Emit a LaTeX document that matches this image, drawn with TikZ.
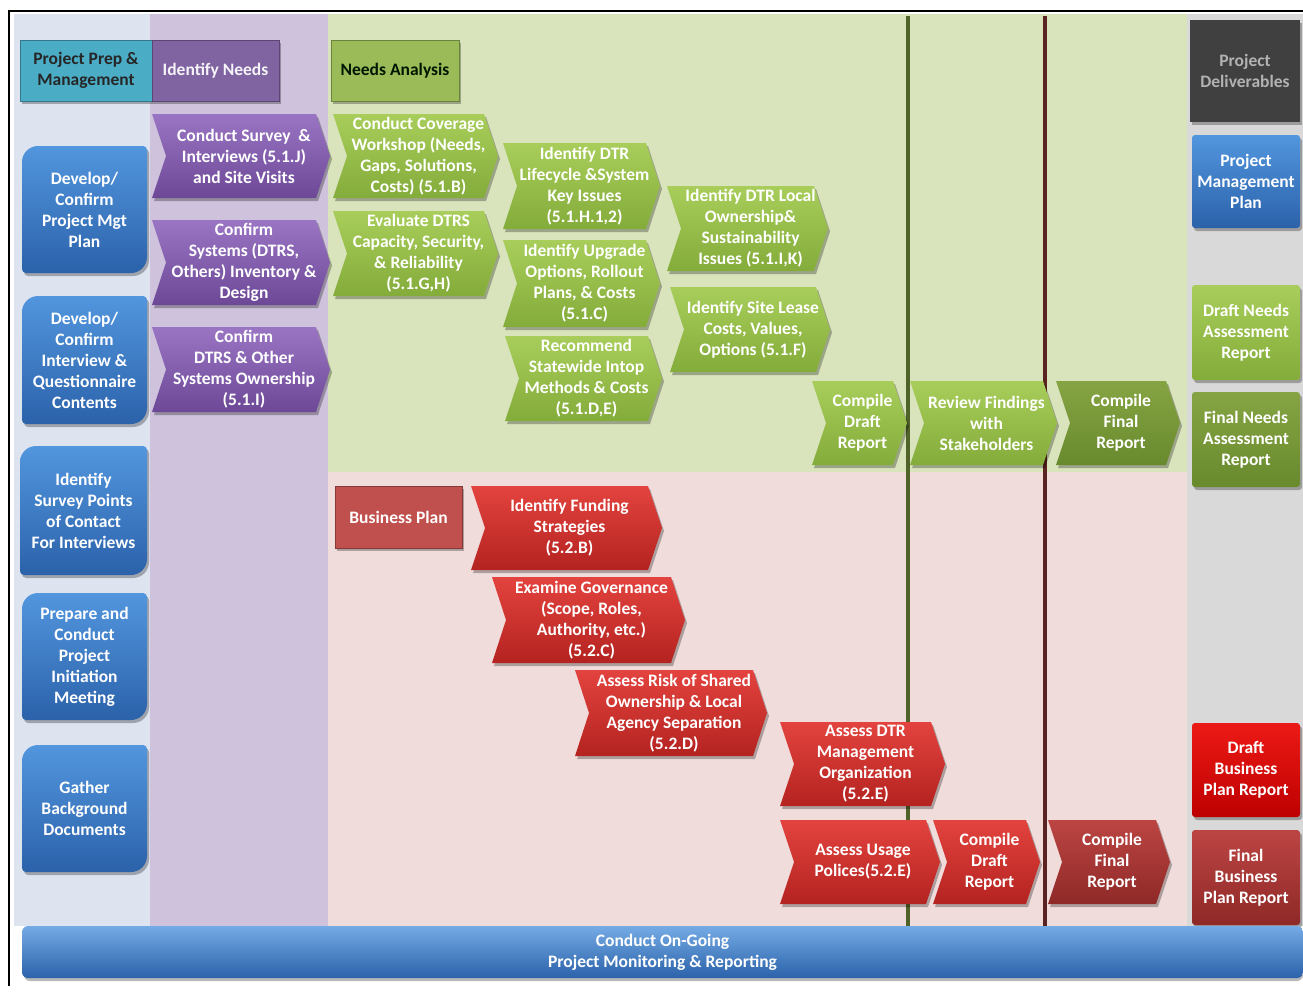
\documentclass[tikz,border=0pt]{standalone}
\usepackage{fontspec}
\setmainfont{Carlito}
\begin{document}
% colours
\definecolor{bgleft}{HTML}{DDE3EF}
\definecolor{bgpurple}{HTML}{CEC2DC}
\definecolor{bggreen}{HTML}{D9E4BD}
\definecolor{bgpink}{HTML}{F1DCDC}
\definecolor{bggray}{HTML}{D9D9D9}
\definecolor{blueA}{HTML}{5296DE}
\definecolor{blueB}{HTML}{2B62AA}
\definecolor{purA}{HTML}{9A75C4}
\definecolor{purB}{HTML}{6C4897}
\definecolor{grnA}{HTML}{A8CD5A}
\definecolor{grnB}{HTML}{84AC3A}
\definecolor{dgrnA}{HTML}{86A443}
\definecolor{dgrnB}{HTML}{688A2D}
\definecolor{redA}{HTML}{E3433E}
\definecolor{redB}{HTML}{B42320}
\definecolor{dredA}{HTML}{BC4543}
\definecolor{dredB}{HTML}{8E2927}
\definecolor{brredA}{HTML}{EC1A16}
\definecolor{brredB}{HTML}{BE0000}
\definecolor{lineG}{HTML}{4F6228}
\definecolor{lineR}{HTML}{5A2220}
\definecolor{tealbox}{HTML}{4BACC6}
\definecolor{purbox}{HTML}{8064A2}
\definecolor{grnbox}{HTML}{9BBB59}
\definecolor{bpbox}{HTML}{C0504D}
\definecolor{darkbox}{HTML}{404040}
\tikzset{
  shadowc/.style={black,opacity=.28},
  blueshade/.style={top color=blueA,bottom color=blueB},
  purshade/.style={top color=purA,bottom color=purB},
  grnshade/.style={top color=grnA,bottom color=grnB},
  dgrnshade/.style={top color=dgrnA,bottom color=dgrnB},
  redshade/.style={top color=redA,bottom color=redB},
  dredshade/.style={top color=dredA,bottom color=dredB},
  brredshade/.style={top color=brredA,bottom color=brredB},
  txt/.style={text=white,font=\bfseries\fontsize{17.5}{21}\selectfont,align=center,inner sep=0pt},
  hdr/.style={rectangle,inner sep=0pt,align=center,font=\bfseries\fontsize{17.5}{21}\selectfont},
}
% chevron: name, x1, y1, x2, y2, shading style, text
\newcommand\chev[7]{%
  \pgfmathsetmacro\cy{(#3+#5)/2}%
  \fill[shadowc] (#2+2,#3+3) -- (#4-12,#3+3) -- (#4+2,\cy+3) -- (#4-12,#5+3) -- (#2+2,#5+3) -- (#2+16,\cy+3) -- cycle;
  \shade[#6] (#2,#3) -- (#4-14,#3) -- (#4,\cy) -- (#4-14,#5) -- (#2,#5) -- (#2+14,\cy) -- cycle;
  \node[txt] (#1) at ({(#2+#4)/2+3},\cy) {#7};
}
% box with two large diagonal corners: name, x1, y1, x2, y2, text
\newcommand\bluebox[6]{%
  \begin{scope}[shift={(2,3)}]
  \fill[shadowc] (#2,#3+16) .. controls (#2,#3+7.2) and (#2+7.2,#3) .. (#2+16,#3) -- (#4-4,#3) .. controls (#4-1.8,#3) and (#4,#3+1.8) .. (#4,#3+4) -- (#4,#5-16) .. controls (#4,#5-7.2) and (#4-7.2,#5) .. (#4-16,#5) -- (#2+4,#5) .. controls (#2+1.8,#5) and (#2,#5-1.8) .. (#2,#5-4) -- cycle;
  \end{scope}
  \shade[blueshade] (#2,#3+16) .. controls (#2,#3+7.2) and (#2+7.2,#3) .. (#2+16,#3) -- (#4-4,#3) .. controls (#4-1.8,#3) and (#4,#3+1.8) .. (#4,#3+4) -- (#4,#5-16) .. controls (#4,#5-7.2) and (#4-7.2,#5) .. (#4-16,#5) -- (#2+4,#5) .. controls (#2+1.8,#5) and (#2,#5-1.8) .. (#2,#5-4) -- cycle;
  \node[txt] (#1) at ({(#2+#4)/2},{(#3+#5)/2}) {#6};
}
% deliverable box: name, x1, y1, x2, y2, shading style, text
\newcommand\dbox[7]{%
  \fill[shadowc,rounded corners=3pt] (#2+2,#3+3) rectangle (#4+2,#5+3);
  \shade[#6,rounded corners=3pt] (#2,#3) rectangle (#4,#5);
  \node[txt] (#1) at ({(#2+#4)/2},{(#3+#5)/2}) {#7};
}
\begin{tikzpicture}[x=1pt,y=-1pt]
\useasboundingbox (0,0) rectangle (1303,991);
\fill[white] (0,0) rectangle (1303,991);
% swim-lane backgrounds
\fill[bgleft] (14,14) rectangle (150,926);
\fill[bgpurple] (150,14) rectangle (328,926);
\fill[bggreen] (328,14) rectangle (1187,472);
\fill[bgpink] (328,472) rectangle (1187,926);
\fill[bggray] (1187,14) rectangle (1303,926);
% frame
\draw[line width=2pt] (9,986) -- (9,11) -- (1303,11);
% milestone dividers
\draw[lineG,line width=3.5pt] (908,16) -- (908,926);
\draw[lineR,line width=3.5pt] (1045,16) -- (1045,926);

% column headers
\fill[shadowc] (22,43) rectangle (281,104);
\node[hdr,fill=tealbox,draw=tealbox!70!black,minimum width=132,minimum height=61,text=black!85] (prep) at (86,70.5) {Project Prep \&\\Management};
\node[hdr,fill=purbox,draw=purbox!70!black,minimum width=127,minimum height=61,text=white!92!purbox] (idneeds) at (215.5,70.5) {Identify Needs};
\fill[shadowc] (333,43) rectangle (461,104);
\node[hdr,fill=grnbox,draw=grnbox!70!black,minimum width=128,minimum height=61,text=black!85!green!60!black] (needsan) at (395,70.5) {Needs Analysis};
\fill[shadowc] (1192,23) rectangle (1302,125);
\node[hdr,fill=darkbox,minimum width=110,minimum height=102,text=black!30] (deliv) at (1245,71) {Project\\Deliverables};

% project prep and management
\bluebox{pm1}{22}{146}{147}{273}{Develop/\\Confirm\\Project Mgt\\Plan}
\bluebox{pm2}{22}{296}{147}{424}{Develop/\\Confirm\\Interview \&\\Questionnaire\\Contents}
\bluebox{pm3}{20}{446}{147}{575}{Identify\\Survey Points\\of Contact\\For Interviews}
\bluebox{pm4}{22}{593}{147}{720}{Prepare and\\Conduct\\Project\\Initiation\\Meeting}
\bluebox{pm5}{22}{745}{147}{872}{Gather\\Background\\Documents}

% identify needs
\chev{in1}{152}{114}{330}{198}{purshade}{Conduct Survey~ \&\\Interviews (5.1.J)\\and Site Visits}
\chev{in2}{152}{220}{330}{305}{purshade}{Confirm\\Systems (DTRS,\\Others) Inventory \&\\Design}
\chev{in3}{152}{327}{330}{412}{purshade}{Confirm\\DTRS \& Other\\Systems Ownership\\(5.1.I)}

% needs analysis
\chev{na1}{333}{114}{498}{198}{grnshade}{Conduct Coverage\\Workshop (Needs,\\Gaps, Solutions,\\Costs) (5.1.B)}
\chev{na2}{333}{211}{498}{296}{grnshade}{Evaluate DTRS\\Capacity, Security,\\\& Reliability\\(5.1.G,H)}
\chev{na3}{503}{143}{660}{229}{grnshade}{Identify DTR\\Lifecycle \&System\\Key Issues\\(5.1.H.1,2)}
\chev{na4}{503}{240}{660}{327}{grnshade}{Identify Upgrade\\Options, Rollout\\Plans, \& Costs\\(5.1.C)}
\chev{na5}{505}{336}{662}{421}{grnshade}{Recommend\\Statewide Intop\\Methods \& Costs\\(5.1.D,E)}
\chev{na6}{667}{186}{828}{271}{grnshade}{Identify DTR Local\\Ownership\&\\Sustainability\\Issues (5.1.I,K)}
\chev{na7}{670}{287}{830}{372}{grnshade}{Identify Site Lease\\Costs, Values,\\Options (5.1.F)}
\chev{na8}{812}{381}{907}{465}{grnshade}{Compile\\Draft\\Report}
\chev{na9}{910}{381}{1057}{465}{grnshade}{Review Findings\\with\\Stakeholders}
\chev{na10}{1056}{381}{1180}{465}{dgrnshade}{Compile\\Final\\Report}

% business plan
\fill[shadowc] (337,489) rectangle (464,551);
\node[hdr,fill=bpbox,draw=bpbox!70!black,minimum width=127,minimum height=62,text=white] (bplan) at (398.5,517) {Business Plan};
\chev{bp1}{471}{486}{662}{570}{redshade}{Identify Funding\\Strategies\\(5.2.B)}
\chev{bp2}{492}{577}{685}{663}{redshade}{Examine Governance\\(Scope, Roles,\\Authority, etc.)\\(5.2.C)}
\chev{bp3}{575}{670}{767}{756}{redshade}{Assess Risk of Shared\\Ownership \& Local\\Agency Separation\\(5.2.D)}
\chev{bp4}{780}{722}{945}{806}{redshade}{Assess DTR\\Management\\Organization\\(5.2.E)}
\chev{bp5}{780}{820}{940}{904}{redshade}{Assess Usage\\Polices(5.2.E)}
\chev{bp6}{933}{820}{1040}{904}{redshade}{Compile\\Draft\\Report}
\chev{bp7}{1048}{820}{1170}{904}{dredshade}{Compile\\Final\\Report}

% deliverables
\dbox{d1}{1192}{135}{1300}{228}{blueshade}{Project\\Management\\Plan}
\dbox{d2}{1192}{285}{1300}{380}{grnshade}{Draft Needs\\Assessment\\Report}
\dbox{d3}{1192}{392}{1300}{487}{dgrnshade}{Final Needs\\Assessment\\Report}
\dbox{d4}{1192}{723}{1300}{817}{brredshade}{Draft\\Business\\Plan Report}
\dbox{d5}{1192}{830}{1300}{925}{dredshade}{Final\\Business\\Plan Report}

% monitoring bar
\fill[shadowc,rounded corners=6pt] (24,929) rectangle (1303,981);
\shade[top color=blueA!80!white,bottom color=blueB,rounded corners=6pt] (22,926) rectangle (1303,978);
\node[txt] (monitor) at (662.5,952.5) {Conduct On-Going\\Project Monitoring \& Reporting};
\end{tikzpicture}
\end{document}
